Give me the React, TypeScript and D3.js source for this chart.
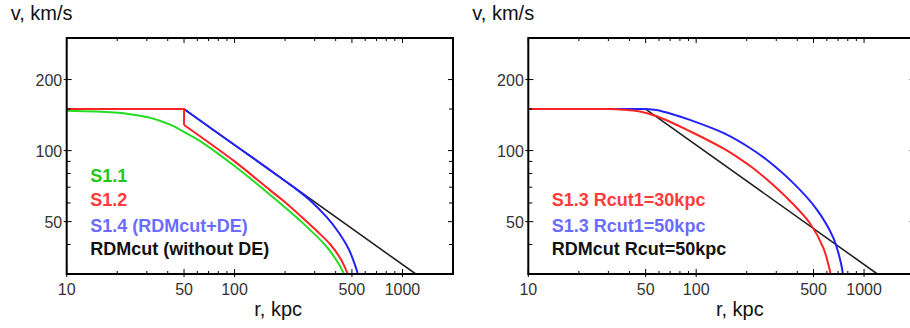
import * as d3 from 'd3';

// r (kpc), v (km/s) pairs
const leftS11: [number, number][] = [
  [10, 147.5], [15, 146.3], [22.8, 143.3], [30, 138.7], [35.9, 133.8], [43, 127.2], [50, 120],
  [62, 110], [100, 86], [162.5, 65], [245, 50.6], [354, 39.1], [415, 33.3], [449, 30],
];
const leftS12: [number, number][] = [
  [10, 150], [50, 150], [50, 128.4], [100, 90], [162.5, 68], [200, 60.4], [251, 52.3],
  [316, 45], [372, 40], [427, 34.9], [457, 31.7], [472, 30],
];
const leftS14: [number, number][] = [
  [10, 150], [50, 150], [100, 105.6], [150, 86.2], [200, 74.3], [224, 70.1], [282, 61.5],
  [355, 52.1], [417, 45], [479, 38.2], [525, 32.3], [542, 30],
];
const rdmCut: [number, number][] = [[10, 150], [50, 150], [1200, 30]];

const rightS13cut30: [number, number][] = [
  [10, 150], [30, 150], [36.8, 149.1], [46.2, 146.4], [58.2, 139.8], [91.8, 120.8],
  [145, 102.1], [182, 92.3], [209, 86.2], [263, 75.6], [362, 61.2], [477, 49.1],
  [572, 38.7], [632, 30],
];
const rightS13cut50: [number, number][] = [
  [10, 150], [50, 150], [58, 148.5], [73.1, 142.2], [91.8, 134.9], [145, 118.8], [209, 102.6],
  [263, 91.4], [379, 72.8], [522, 56.4], [656, 42.7], [736, 32.2], [746, 30],
];

const xMajor = [10, 50, 100, 500, 1000];
const xMinor = [20, 30, 40, 60, 70, 80, 90, 200, 300, 400, 600, 700, 800, 900];
const yMajor = [50, 100, 200];
const yMinor = [40, 60, 70, 80, 90, 150];

const leftLegend = [
  { text: 'S1.1', color: '#1ec81e' },
  { text: 'S1.2', color: '#ff3b3b' },
  { text: 'S1.4 (RDMcut+DE)', color: '#6b6bff' },
  { text: 'RDMcut (without DE)', color: '#111' },
];
const rightLegend = [
  { text: 'S1.3 Rcut1=30kpc', color: '#ff3b3b' },
  { text: 'S1.3 Rcut1=50kpc', color: '#6b6bff' },
  { text: 'RDMcut Rcut=50kpc', color: '#111' },
];

interface Series {
  data: [number, number][];
  color: string;
  smoothFrom: number; // linear up to this index, smooth after
  width?: number;
}

const FONT = '"Liberation Sans", Arial, sans-serif';
const TOP = 38;
const BOTTOM = 274;

function Panel({ id, left, series, legend, legendRows }: {
  id: string;
  left: number;
  series: Series[];
  legend: { text: string; color: string }[];
  legendRows: number[];
}) {
  const x = d3.scaleLog().domain([10, 2000]).range([left, left + 386.3]);
  const y = d3.scaleLog().domain([30, 300]).range([BOTTOM, TOP]);
  const right = x.range()[1];

  const lin = d3.line<[number, number]>().x((d) => x(d[0])).y((d) => y(d[1]));
  const smooth = d3
    .line<[number, number]>()
    .x((d) => x(d[0]))
    .y((d) => y(d[1]))
    .curve(d3.curveCatmullRom.alpha(0.5));

  return (
    <g>
      <defs>
        <clipPath id={id}>
          <rect x={left} y={TOP} width={right - left} height={BOTTOM - TOP} />
        </clipPath>
      </defs>

      <g clipPath={`url(#${id})`} fill="none" strokeLinejoin="round">
        {series.map((s, i) => {
          const head = s.data.slice(0, s.smoothFrom + 1);
          const tail = s.data.slice(s.smoothFrom);
          return (
            <g key={i} stroke={s.color} strokeWidth={s.width ?? 2}>
              {head.length > 1 && <path d={lin(head) || ''} />}
              {tail.length > 1 && <path d={smooth(tail) || ''} />}
            </g>
          );
        })}
      </g>

      {/* ticks */}
      <g stroke="#000" strokeWidth={1}>
        {xMajor.map((t) => (
          <g key={'xM' + t}>
            <line x1={x(t)} x2={x(t)} y1={BOTTOM + 3} y2={BOTTOM - 5} />
            <line x1={x(t)} x2={x(t)} y1={TOP} y2={TOP + 5} />
          </g>
        ))}
        {xMinor.map((t) => (
          <g key={'xm' + t}>
            <line x1={x(t)} x2={x(t)} y1={BOTTOM} y2={BOTTOM - 3} />
            <line x1={x(t)} x2={x(t)} y1={TOP} y2={TOP + 3} />
          </g>
        ))}
        {yMajor.map((t) => (
          <g key={'yM' + t}>
            <line x1={left - 3} x2={left + 5} y1={y(t)} y2={y(t)} />
            <line x1={right} x2={right - 5} y1={y(t)} y2={y(t)} />
          </g>
        ))}
        {yMinor.map((t) => (
          <g key={'ym' + t}>
            <line x1={left} x2={left + 4} y1={y(t)} y2={y(t)} />
            <line x1={right} x2={right - 4} y1={y(t)} y2={y(t)} />
          </g>
        ))}
      </g>

      <rect x={left} y={TOP} width={right - left} height={BOTTOM - TOP} fill="none" stroke="#000" strokeWidth={2} />

      {/* tick labels */}
      <g fontFamily={FONT} fontSize={16} fill="#333">
        {xMajor.map((t) => (
          <text key={'xl' + t} x={x(t)} y={294.5} textAnchor="middle">{t}</text>
        ))}
        {yMajor.map((t) => (
          <text key={'yl' + t} x={left - 4.5} y={y(t) + 6} textAnchor="end">{t}</text>
        ))}
      </g>

      <text x={left - 56} y={20} fontFamily={FONT} fontSize={20} fill="#111">v, km/s</text>
      <text x={left + 211.5} y={316} fontFamily={FONT} fontSize={20} fill="#111" textAnchor="middle">r, kpc</text>

      <g fontFamily={FONT} fontSize={18} fontWeight="bold">
        {legend.map((l, i) => (
          <text key={l.text} x={left + 23.5} y={legendRows[i]} fill={l.color}>{l.text}</text>
        ))}
      </g>
    </g>
  );
}

export default function App() {
  // drawing order: black, green, blue, red (red sits on top of the shared flat part)
  const leftSeries: Series[] = [
    { data: rdmCut, color: '#222', smoothFrom: rdmCut.length - 1, width: 1.6 },
    { data: leftS11, color: '#22dd22', smoothFrom: 0 },
    { data: leftS14, color: '#2222ff', smoothFrom: 1 },
    { data: leftS12, color: '#ff2222', smoothFrom: 2 },
  ];
  const rightSeries: Series[] = [
    { data: rdmCut, color: '#222', smoothFrom: rdmCut.length - 1, width: 1.6 },
    { data: rightS13cut50, color: '#2222ff', smoothFrom: 1 },
    { data: rightS13cut30, color: '#ff2222', smoothFrom: 1 },
  ];

  return (
    <svg
      width={910}
      height={328}
      style={{ position: 'absolute', left: 0, top: 0, background: '#fff' }}
    >
      <Panel id="clipL" left={66.7} series={leftSeries} legend={leftLegend} legendRows={[182, 205.5, 231.5, 254.5]} />
      <Panel id="clipR" left={528.3} series={rightSeries} legend={rightLegend} legendRows={[205.5, 231.5, 254.5]} />
    </svg>
  );
}
